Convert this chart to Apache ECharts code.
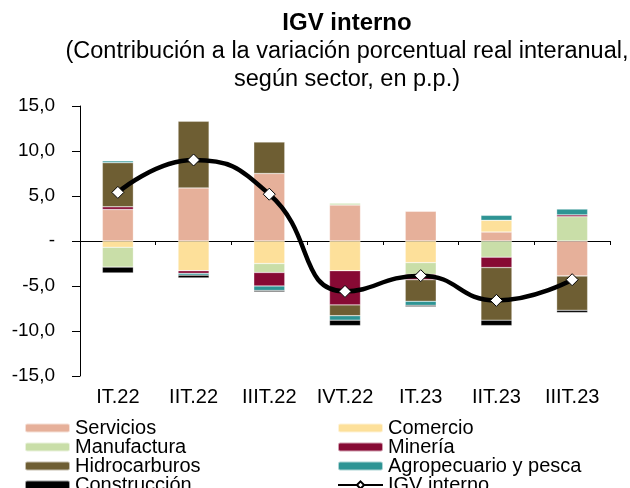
<!DOCTYPE html>
<html>
<head>
<meta charset="utf-8">
<script src="https://cdn.jsdelivr.net/npm/echarts@6/dist/echarts.min.js"></script>
<style>
  html, body { margin: 0; padding: 0; background: #fff; }
  #chart { width: 630px; height: 488px; }
</style>
</head>
<body>
<div id="chart"></div>
<script>
// trimestres
const categories = ['IT.22', 'IIT.22', 'IIIT.22', 'IVT.22', 'IT.23', 'IIT.23', 'IIIT.23']

// contribuciones por sector (p.p.)
const servicios     = [3.5, 5.9, 7.5, 4.0, 3.3, 1.0, -3.9]
const comercio      = [-0.7, -3.3, -2.5, -3.3, -2.4, 1.3, 0]
const manufactura   = [-2.2, 0, -1.0, 0.2, -1.3, -1.8, 2.7]
const mineria       = [0.3, -0.3, -1.5, -3.8, -0.6, -1.15, 0.2]
const hidrocarburos = [4.9, 7.4, 3.5, -1.2, -2.4, -5.85, -3.8]
const agropecuario  = [0.2, -0.2, -0.5, -0.5, -0.45, 0.55, 0.65]
const construccion  = [-0.65, -0.3, -0.15, -0.6, -0.15, -0.6, -0.25]
const igvInterno    = [5.4, 9.0, 5.2, -5.6, -3.85, -6.6, -4.3]

const yTicks = { '15': '15,0', '10': '10,0', '5': '5,0', '0': '-', '-5': '-5,0', '-10': '-10,0', '-15': '-15,0' }

// orden de la leyenda (dos columnas)
const legendLeft  = ['Servicios', 'Manufactura', 'Hidrocarburos', 'Construcción']
const legendRight = ['Comercio', 'Minería', 'Agropecuario y pesca', 'IGV interno']

const FONT = 'Liberation Sans, Arial, sans-serif'

const chart = echarts.init(document.getElementById('chart'))

function barSerie(name, data, color) {
  return {
    name: name,
    type: 'bar',
    stack: 'total',
    barWidth: 31,
    data: data,
    itemStyle: { color: color, borderColor: 'rgba(255,255,255,0.6)', borderWidth: 0.5 },
    emphasis: { disabled: true }
  }
}

// una leyenda por elemento para fijar filas y columnas
function legendItem(name, col, row) {
  return {
    left: col === 0 ? 24 : 337,
    top: 418 + row * 19,
    itemWidth: 45,
    itemHeight: 9,
    itemGap: 0,
    padding: 0,
    textStyle: { fontSize: 20, color: '#000', lineHeight: 19, fontFamily: FONT },
    data: [name]
  }
}

const legends = []
legendLeft.forEach((n, i) => legends.push(legendItem(n, 0, i)))
legendRight.forEach((n, i) => legends.push(legendItem(n, 1, i)))

const option = {
  animation: false,
  textStyle: { fontFamily: FONT },
  title: {
    text: 'IGV interno',
    subtext: '(Contribución a la variación porcentual real interanual,\nsegún sector, en p.p.)',
    left: 342,
    top: 6,
    textAlign: 'center',
    itemGap: 3,
    textStyle: { fontSize: 24, fontWeight: 'bold', color: '#000', fontFamily: FONT },
    subtextStyle: { fontSize: 23.5, color: '#000', lineHeight: 28, fontFamily: FONT }
  },
  legend: legends,
  grid: { left: 80, right: 20, top: 106, bottom: 112 },
  xAxis: [
    {
      type: 'category',
      data: categories,
      position: 'bottom',
      axisLine: { show: false, onZero: false },
      axisTick: { show: false },
      axisLabel: { fontSize: 20, color: '#000', margin: 11, fontFamily: FONT }
    },
    {
      type: 'category',
      data: categories,
      position: 'top',
      axisLine: { onZero: true, lineStyle: { color: '#000', width: 1 } },
      axisTick: { show: true, inside: true, length: 4, lineStyle: { color: '#000' } },
      axisLabel: { show: false }
    }
  ],
  yAxis: {
    type: 'value',
    min: -15,
    max: 15,
    interval: 5,
    axisLine: { show: true, lineStyle: { color: '#000', width: 1 } },
    axisTick: { show: true, length: 8, lineStyle: { color: '#000' } },
    splitLine: { show: false },
    axisLabel: {
      fontSize: 19,
      color: '#000',
      margin: 25,
      fontFamily: FONT,
      formatter: v => yTicks[String(v)]
    }
  },
  series: [
    barSerie('Servicios', servicios, '#E6B09A'),
    barSerie('Comercio', comercio, '#FDE09A'),
    barSerie('Manufactura', manufactura, '#C9DEA8'),
    barSerie('Minería', mineria, '#870A34'),
    barSerie('Hidrocarburos', hidrocarburos, '#6E5E33'),
    barSerie('Agropecuario y pesca', agropecuario, '#2E9494'),
    barSerie('Construcción', construccion, '#000000'),
    {
      name: 'IGV interno',
      type: 'line',
      data: igvInterno,
      smooth: 0.5,
      z: 10,
      symbol: 'diamond',
      symbolSize: 12,
      lineStyle: { color: '#000', width: 4.5 },
      itemStyle: { color: '#fff', borderColor: '#000', borderWidth: 1 },
      emphasis: { disabled: true }
    }
  ]
}

chart.setOption(option)
</script>
</body>
</html>
